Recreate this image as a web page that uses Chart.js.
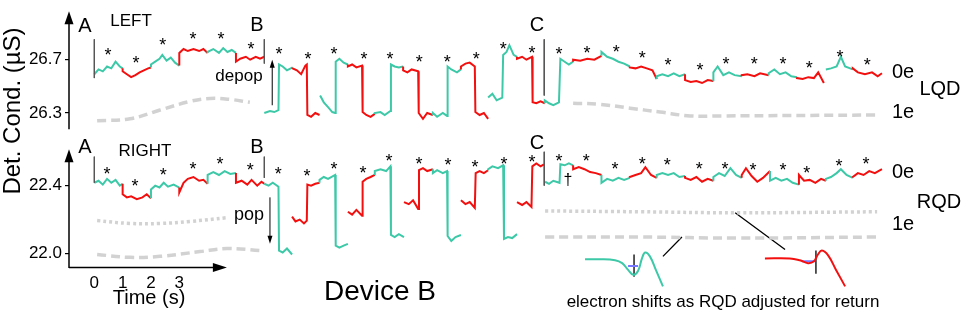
<!DOCTYPE html>
<html><head><meta charset="utf-8">
<script src="https://cdn.jsdelivr.net/npm/chart.js@4.4.0/dist/chart.umd.min.js"></script>
<style>html,body{margin:0;padding:0;background:#fff;}#wrap{width:961px;height:310px;position:relative;}</style>
</head><body><div id="wrap"><canvas id="c"></canvas></div>
<script>
// ---------- tick labels ----------
const xTicks = [0, 1, 2, 3];
const yTicksLQD = [26.3, 26.7];
const yTicksRQD = [22.0, 22.4];

// ---------- LQD (LEFT) trace: runs of one colour, null = break ----------
const lqdRunC = ['g','r','g','r','g','r',null,'g','r',null,'g','r','g','r','g','r',null,'g','r','g','r','g','r','g','r','g','r','g','r',null,'g','r'];
const lqdRunT = [
 [0,0.15,0.3,0.45,0.6,0.75,0.9,1.0],[1.0,1.15,1.3,1.45,1.6,1.75,1.9,2.0],[2.0,2.15,2.3,2.4,2.55,2.7,2.85,3.0],
 [3.0,3.15,3.3,3.5,3.7,3.85,4.0],[4.0,4.2,4.4,4.55,4.7,4.85,5.0],[5.0,5.15,5.35,5.5,5.7,5.85,6.0],null,
 [6.0,6.2,6.35,6.5,6.52,6.65,6.8,7.0],[7.0,7.15,7.3,7.45,7.5,7.52,7.65,7.8,7.95],null,
 [7.97,8.1,8.25,8.4,8.5,8.52,8.65,8.8,8.95],[8.95,9.1,9.25,9.45,9.47,9.6,9.75,9.9],
 [9.9,10.1,10.25,10.45,10.47,10.6,10.75,10.9],[10.9,11.05,11.2,11.43,11.45,11.6,11.75,11.95],
 [11.95,12.1,12.3,12.45,12.47,12.6,12.8,12.94],[12.94,13.1,13.25,13.43,13.45,13.6,13.75,13.9],null,
 [13.9,14.05,14.2,14.4,14.43,14.55,14.65,14.8,14.92],[14.92,15.1,15.25,15.45,15.47,15.6,15.75,15.9],
 [15.9,16.05,16.2,16.4,16.45,16.6,16.75,16.9],[16.9,17.15,17.4,17.65,17.9],[17.9,18.1,18.3,18.5,18.7,18.9],
 [18.9,19.1,19.3,19.5,19.7,19.85],[19.85,20.05,20.25,20.45,20.65,20.85],[20.85,21.05,21.25,21.45,21.65,21.85],
 [21.85,22.0,22.2,22.4,22.6,22.85],[22.85,23.05,23.3,23.5,23.8],[23.8,24.0,24.2,24.4,24.6,24.8],
 [24.8,25.0,25.2,25.4,25.55,25.75],null,[25.82,26.0,26.2,26.35,26.5,26.77],[26.77,26.95,27.2,27.45,27.65,27.8]
];
const lqdRunV = [
 [26.591,26.627,26.613,26.649,26.635,26.685,26.649,26.635],[26.613,26.591,26.569,26.584,26.605,26.620,26.635,26.642],
 [26.664,26.685,26.707,26.736,26.693,26.715,26.678,26.656],[26.751,26.780,26.765,26.780,26.765,26.780,26.751],
 [26.758,26.780,26.751,26.787,26.758,26.773,26.751],[26.685,26.707,26.722,26.700,26.722,26.707,26.722],null,
 [26.300,26.315,26.307,26.322,26.664,26.649,26.620,26.642],[26.635,26.620,26.591,26.656,26.664,26.285,26.271,26.300,26.285],null,
 [26.431,26.380,26.344,26.307,26.300,26.685,26.707,26.678,26.664],[26.649,26.664,26.642,26.656,26.307,26.285,26.271,26.293],
 [26.300,26.307,26.285,26.315,26.664,26.649,26.642,26.649],[26.620,26.605,26.627,26.613,26.300,26.256,26.300,26.285],
 [26.300,26.271,26.300,26.278,26.649,26.627,26.605,26.627],[26.649,26.671,26.678,26.649,26.307,26.285,26.300,26.256],null,
 [26.416,26.445,26.395,26.416,26.736,26.758,26.809,26.736,26.722],[26.707,26.722,26.700,26.722,26.380,26.373,26.387,26.373],
 [26.395,26.373,26.358,26.380,26.707,26.685,26.664,26.685],[26.700,26.693,26.707,26.700,26.729],
 [26.758,26.722,26.707,26.685,26.671,26.649],[26.642,26.635,26.649,26.635,26.620,26.555],
 [26.576,26.591,26.576,26.598,26.576,26.591],[26.547,26.533,26.540,26.525,26.547,26.540],
 [26.605,26.649,26.584,26.605,26.584,26.576],[26.584,26.591,26.576,26.598,26.584],
 [26.598,26.627,26.591,26.605,26.576,26.569],[26.562,26.555,26.569,26.562,26.605,26.525],null,
 [26.627,26.635,26.649,26.722,26.649,26.627],[26.635,26.605,26.591,26.605,26.576,26.598]
];

// ---------- RQD (RIGHT) trace ----------
const rqdRunC = ['g','r','g','r','g','r','g',null,'r','g',null,'r','g',null,'r','g',null,'r','g',null,'r',null,'g','r','g','r','g','r','g','r','g','r','g','r'];
const rqdRunT = [
 [0,0.15,0.3,0.45,0.6,0.75,0.9,1.0],[1.0,1.15,1.3,1.5,1.7,1.85,2.0],[2.0,2.15,2.3,2.45,2.6,2.8,3.0],
 [3.0,3.15,3.3,3.5,3.7,3.85,4.0],[4.0,4.2,4.4,4.6,4.8,5.0],[5.0,5.2,5.4,5.55,5.75,5.9,6.0],
 [6.0,6.15,6.3,6.5,6.52,6.65,6.8,6.98],null,
 [6.98,7.1,7.25,7.4,7.5,7.52,7.65,7.8,7.95],[7.95,8.1,8.25,8.5,8.52,8.65,8.8,8.95],null,
 [8.95,9.1,9.25,9.45,9.47,9.6,9.75,9.9],[9.9,10.1,10.3,10.45,10.47,10.6,10.75,10.93],null,
 [10.93,11.1,11.25,11.43,11.46,11.6,11.75,11.95],[11.95,12.1,12.3,12.45,12.47,12.6,12.75,12.94],null,
 [12.94,13.1,13.25,13.43,13.46,13.6,13.75,13.9],[13.9,14.05,14.25,14.43,14.46,14.6,14.75,14.92],null,
 [14.92,15.1,15.25,15.43,15.46,15.6,15.75,15.87],null,
 [15.91,16.05,16.2,16.42,16.45,16.6,16.75,16.9],[16.9,17.1,17.3,17.5,17.7,17.9],[17.9,18.1,18.3,18.5,18.7,18.9],
 [18.9,19.1,19.3,19.45,19.65,19.85],[19.85,20.05,20.25,20.45,20.65,20.85],[20.85,21.05,21.25,21.45,21.65,21.85],
 [21.85,22.05,22.25,22.45,22.65,22.85],[22.85,23.0,23.2,23.4,23.6,23.85],[23.85,24.05,24.25,24.45,24.65,24.87],
 [24.87,25.05,25.25,25.45,25.65,25.82],[25.82,26.0,26.2,26.35,26.55,26.77],[26.77,26.95,27.15,27.35,27.55,27.8]
];
const rqdRunV = [
 [22.417,22.429,22.406,22.440,22.417,22.434,22.400,22.411],[22.349,22.331,22.337,22.320,22.331,22.349,22.326],
 [22.377,22.400,22.389,22.417,22.394,22.406,22.389],[22.360,22.417,22.440,22.451,22.429,22.434,22.411],
 [22.463,22.480,22.463,22.486,22.469,22.474],[22.417,22.429,22.406,22.434,22.400,22.423,22.411],
 [22.411,22.400,22.417,22.394,22.017,22.006,22.029,21.994],null,
 [22.217,22.189,22.200,22.177,22.194,22.406,22.400,22.411,22.417],[22.434,22.451,22.440,22.463,22.046,22.034,22.046,22.057],null,
 [22.246,22.229,22.257,22.223,22.423,22.440,22.451,22.463],[22.486,22.497,22.486,22.514,22.109,22.097,22.114,22.097],null,
 [22.303,22.291,22.314,22.263,22.491,22.503,22.486,22.497],[22.474,22.491,22.474,22.486,22.103,22.074,22.097,22.109],null,
 [22.314,22.291,22.303,22.269,22.474,22.486,22.474,22.491],[22.497,22.514,22.503,22.520,22.086,22.097,22.091,22.114],null,
 [22.303,22.286,22.303,22.274,22.514,22.531,22.514,22.526],null,
 [22.423,22.411,22.429,22.417,22.526,22.520,22.531,22.520],[22.497,22.509,22.497,22.480,22.474,22.463],
 [22.417,22.440,22.429,22.446,22.434,22.446],[22.451,22.463,22.474,22.509,22.463,22.446],
 [22.463,22.474,22.463,22.474,22.451,22.457],[22.446,22.434,22.451,22.423,22.440,22.429],
 [22.451,22.474,22.457,22.503,22.463,22.446],[22.463,22.503,22.457,22.423,22.446,22.486],
 [22.429,22.446,22.429,22.440,22.417,22.406],[22.463,22.429,22.434,22.417,22.440,22.429],
 [22.440,22.451,22.474,22.497,22.463,22.446],[22.451,22.474,22.463,22.486,22.474,22.497]
];

// ---------- grey reference levels (1e) ----------
const lqd1eT = [0.1,1.26,2.32,3.38,4.08,4.79,5.49,5.49,16.9,17.85,18.91,19.97,21.03,22.09,27.73];
const lqd1eV = [26.242,26.256,26.322,26.387,26.409,26.402,26.380,null,26.373,26.365,26.336,26.307,26.278,26.278,26.285];
const rqdDotT = [0.1,1.26,2.32,3.38,4.68,4.68,15.91,19.26,22.69,27.63];
const rqdDotV = [22.194,22.177,22.177,22.189,22.211,null,22.251,22.246,22.240,22.246];
const rqdDashT = [0.1,1.26,2.32,3.73,4.68,5.85,5.85,15.91,19.26,22.69,27.63];
const rqdDashV = [21.994,21.977,21.983,22.011,22.029,22.017,null,22.097,22.097,22.091,22.097];

// ---------- inset potential sketches ----------
const wellTealT = [17.32,17.85,18.38,18.63,18.84,19.02,19.19,19.33,19.44,19.61,19.82,20.07];
const wellTealV = [21.966,21.966,21.960,21.943,21.903,21.874,21.897,21.971,22.006,21.983,21.903,21.806];
const wellRedT = [23.67,24.55,24.90,25.19,25.40,25.54,25.68,25.90,26.18,26.50];
const wellRedV = [21.971,21.971,21.960,21.943,21.954,21.994,22.017,21.989,21.903,21.806];
const levelT = [18.84,19.19,19.19,24.97,25.43];
const levelV = [21.926,21.926,null,21.954,21.954];
const blackT = [19.05,19.05,19.05,25.47,25.47,25.47,20.74,20.07,20.07,22.62,24.38];
const blackV = [21.994,21.863,null,22.017,21.880,null,22.097,21.983,null,22.240,22.023];

// ---------- A/B/C marker lines ----------
const markLqdT = [0,0,0,6.0,6.0,6.0,15.88,15.88];
const markLqdV = [26.853,26.562,null,26.853,26.671,null,26.853,26.431];
const markRqdT = [0,0,0,6.0,6.0,6.0,15.88,15.88];
const markRqdV = [22.571,22.417,null,22.571,22.446,null,22.600,22.400];

// ---------- asterisks ----------
const starLqdT = [0.48,1.47,2.42,3.48,4.47,5.53,6.52,7.54,8.46,9.52,10.44,11.47,12.46,13.48,14.43,15.45,16.40,17.39,18.42,19.34,20.25,21.38,22.30,23.29,24.31,25.23,26.32,27.28];
const starLqdV = [26.765,26.707,26.838,26.882,26.882,26.809,26.773,26.736,26.773,26.736,26.736,26.715,26.715,26.736,26.809,26.780,26.773,26.780,26.787,26.744,26.693,26.649,26.700,26.700,26.700,26.664,26.751,26.693];
const starRqdT = [0.45,1.44,2.43,3.48,4.44,5.50,6.49,7.51,8.46,9.48,10.40,11.46,12.48,13.44,14.46,15.45,16.40,17.36,18.38,19.34,20.22,21.35,22.26,23.25,24.31,25.15,26.28,27.24];
const starRqdV = [22.491,22.423,22.486,22.520,22.554,22.514,22.491,22.480,22.520,22.497,22.571,22.554,22.543,22.531,22.554,22.566,22.571,22.571,22.520,22.549,22.543,22.520,22.520,22.514,22.514,22.497,22.537,22.549];

const TEAL = '#3dc9a8', RED = '#f40f0f', GREY = '#d2d2d2';
const FONT = "'Liberation Sans', Arial, sans-serif";

function buildRuns(runT, runV, runC){
  const pts = [], cols = [];
  let lastX = 0;
  for (let i = 0; i < runC.length; i++){
    if (runC[i] === null){ pts.push({x:lastX, y:null}); cols.push(null); continue; }
    for (let j = 0; j < runT[i].length; j++){
      pts.push({x:runT[i][j], y:runV[i][j]}); cols.push(runC[i]); lastX = runT[i][j];
    }
  }
  return {pts, cols};
}
const zip = (T, V) => T.map((t, i) => ({x:t, y:V[i]}));
const lqd = buildRuns(lqdRunT, lqdRunV, lqdRunC);
const rqd = buildRuns(rqdRunT, rqdRunV, rqdRunC);
const colOf = c => c === 'g' ? TEAL : (c === 'r' ? RED : 'rgba(0,0,0,0)');

const base = {pointRadius:0, fill:false, spanGaps:false, tension:0};
const datasets = [
  Object.assign({}, base, {data:zip(lqd1eT,lqd1eV), yAxisID:'yT', borderColor:GREY, borderWidth:3.5, borderDash:[9,5], tension:0.4}),
  Object.assign({}, base, {data:zip(rqdDotT,rqdDotV), yAxisID:'yB', borderColor:GREY, borderWidth:3.5, borderDash:[3,3], tension:0.4}),
  Object.assign({}, base, {data:zip(rqdDashT,rqdDashV), yAxisID:'yB', borderColor:GREY, borderWidth:3.5, borderDash:[9,5], tension:0.4}),
  Object.assign({}, base, {data:zip(markLqdT,markLqdV), yAxisID:'yT', borderColor:'#555', borderWidth:1}),
  Object.assign({}, base, {data:zip(markRqdT,markRqdV), yAxisID:'yB', borderColor:'#555', borderWidth:1}),
  Object.assign({}, base, {data:lqd.pts, yAxisID:'yT', borderWidth:2, borderColor:TEAL,
     segment:{borderColor: c => colOf(lqd.cols[c.p1DataIndex])}}),
  Object.assign({}, base, {data:rqd.pts, yAxisID:'yB', borderWidth:2, borderColor:TEAL,
     segment:{borderColor: c => colOf(rqd.cols[c.p1DataIndex])}}),
  Object.assign({}, base, {data:zip(wellTealT,wellTealV), yAxisID:'yB', borderColor:TEAL, borderWidth:2, tension:0.4, clip:false}),
  Object.assign({}, base, {data:zip(wellRedT,wellRedV), yAxisID:'yB', borderColor:RED, borderWidth:2, tension:0.4, clip:false}),
  Object.assign({}, base, {data:zip(levelT,levelV), yAxisID:'yB', borderColor:'#7777ff', borderWidth:2, clip:false}),
  Object.assign({}, base, {data:zip(blackT,blackV), yAxisID:'yB', borderColor:'#000', borderWidth:1.3, clip:false})
];

const deco = {
  id:'deco',
  afterDraw(chart){
    const {ctx, chartArea:ca, scales} = chart;
    const x = scales.x, yT = scales.yT, yB = scales.yB;
    ctx.save();
    ctx.strokeStyle = '#000'; ctx.fillStyle = '#000'; ctx.lineWidth = 1.5;
    const L = ca.left;
    const seg = (x1,y1,x2,y2) => { ctx.beginPath(); ctx.moveTo(x1,y1); ctx.lineTo(x2,y2); ctx.stroke(); };
    const headUp = (px,py,w,h) => { ctx.beginPath(); ctx.moveTo(px,py); ctx.lineTo(px-w/2,py+h); ctx.lineTo(px+w/2,py+h); ctx.closePath(); ctx.fill(); };
    const headDown = (px,py,w,h) => { ctx.beginPath(); ctx.moveTo(px,py); ctx.lineTo(px-w/2,py-h); ctx.lineTo(px+w/2,py-h); ctx.closePath(); ctx.fill(); };
    // y axes with arrows
    seg(L, yT.bottom-10, L, yT.top+8); headUp(L, yT.top-2, 9, 13);
    seg(L, yB.bottom, L, yB.top+18); headUp(L, yB.top+10, 9, 13);
    // x axis with arrow
    const xEnd = x.getPixelForValue(4.68);
    const ay = ca.bottom - 0.5;
    seg(L, ay, xEnd-10, ay);
    ctx.beginPath(); ctx.moveTo(xEnd, ay); ctx.lineTo(xEnd-14, ay-4.5); ctx.lineTo(xEnd-14, ay+4.5); ctx.closePath(); ctx.fill();
    // depop / pop arrows
    ctx.lineWidth = 1;
    const dx = x.getPixelForValue(6.28);
    seg(dx, yT.getPixelForValue(26.358), dx, yT.getPixelForValue(26.7)+6); headUp(dx, yT.getPixelForValue(26.7), 5, 8);
    const px2 = x.getPixelForValue(6.2);
    seg(px2, yB.getPixelForValue(22.331), px2, yB.getPixelForValue(22.057)-6); headDown(px2, yB.getPixelForValue(22.057), 5, 8);
    // asterisks
    ctx.font = '18px ' + FONT; ctx.textAlign = 'center'; ctx.textBaseline = 'alphabetic';
    starLqdT.forEach((t,i) => ctx.fillText('*', x.getPixelForValue(t), yT.getPixelForValue(starLqdV[i]) + 10));
    starRqdT.forEach((t,i) => ctx.fillText('*', x.getPixelForValue(t), yB.getPixelForValue(starRqdV[i]) + 10));
    // texts
    const txt = (s, px, py, size, align) => { ctx.font = size + 'px ' + FONT; ctx.textAlign = align || 'center'; ctx.textBaseline = 'middle'; ctx.fillText(s, px, py); };
    txt('A', 85, 26, 20); txt('B', 257, 25, 20); txt('C', 537, 25, 20);
    txt('A', 85, 147, 20); txt('B', 257, 147, 20); txt('C', 537, 143, 20);
    txt('LEFT', 131, 21, 17); txt('RIGHT', 145, 151, 17);
    txt('depop', 239, 76, 17); txt('pop', 249, 215, 18);
    txt('0e', 903, 72, 20); txt('LQD', 940, 89, 20); txt('1e', 903, 112, 20);
    txt('0e', 903, 172, 20); txt('RQD', 939, 202, 20); txt('1e', 903, 224, 20);
    txt('\u2020', 568, 181, 16);
    txt('Device B', 380, 292, 28);
    txt('Time (s)', 149, 298, 20);
    txt('electron shifts as RQD adjusted for return', 723, 302, 17);
    ctx.save(); ctx.translate(13, 111); ctx.rotate(-Math.PI/2); txt('Det. Cond. (\u00b5S)', 0, 0, 24); ctx.restore();
    ctx.restore();
  }
};

const yCommon = (ticksArr) => ({
  type:'linear', position:'left', stack:'det', offset:false,
  grid:{display:true, drawOnChartArea:false, drawTicks:true, tickLength:4, color:'#000', tickColor:'#000', lineWidth:1.2},
  border:{display:false},
  ticks:{font:{size:17, family:FONT}, color:'#000', padding:3, callback:v => Number(v).toFixed(1)},
  afterBuildTicks: s => { s.ticks = ticksArr.map(v => ({value:v})); },
  afterFit: s => { s.width = 69; }
});

new Chart(document.getElementById('c'), {
  type:'line',
  data:{datasets},
  options:{
    responsive:true, maintainAspectRatio:false, animation:false,
    layout:{padding:{left:0, right:0, top:5, bottom:0}},
    plugins:{legend:{display:false}, tooltip:{enabled:false}},
    scales:{
      x:{type:'linear', position:'bottom', min:-0.893, max:30.59,
         grid:{display:false, drawTicks:false}, border:{display:false},
         ticks:{font:{size:17, family:FONT}, color:'#000', padding:5, callback:v => String(v)},
         afterBuildTicks: s => { s.ticks = xTicks.map(v => ({value:v})); },
         afterFit: s => { s.height = 42; }},
      yB:Object.assign(yCommon(yTicksRQD), {min:21.9143, max:22.6743, stackWeight:133}),
      yT:Object.assign(yCommon(yTicksLQD), {min:26.1036, max:27.0491, stackWeight:130})
    }
  },
  plugins:[deco]
});
</script></body></html>
